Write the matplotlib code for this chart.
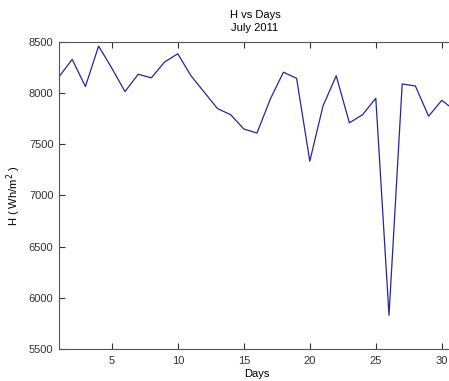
import numpy as np
import matplotlib
matplotlib.use('Agg')
import matplotlib.pyplot as plt

days = np.arange(1, 32)
h_values = [8160, 8330, 8065, 8460, 8245, 8015, 8185, 8150, 8305, 8385,
            8170, 8010, 7850, 7790, 7650, 7610, 7940, 8205, 8145, 7335,
            7875, 8170, 7710, 7790, 7950, 5830, 8090, 8070, 7775, 7930, 7830]
x_ticks = [5, 10, 15, 20, 25, 30]
y_ticks = [5500, 6000, 6500, 7000, 7500, 8000, 8500]

plt.rcParams['font.family'] = ['Liberation Sans', 'DejaVu Sans']

fig = plt.figure(figsize=(4.49, 3.81), dpi=100)
W, H = 449, 381
# axes runs past the right edge (cropped like the reference)
ax = fig.add_axes([59 / W, 1 - 349 / H, (455 - 59) / W, (349 - 42) / H])

ax.plot(days, h_values, color='#26269a', linewidth=0.9)

ax.set_xlim(1, 31)
ax.set_ylim(5500, 8500)
ax.set_xticks(x_ticks)
ax.set_yticks(y_ticks)
ax.tick_params(direction='in', length=4, width=0.8, top=True, right=True,
               labelsize=8, colors='#333333')
ax.tick_params(axis='x', pad=5)
ax.tick_params(axis='y', pad=4)
for s in ax.spines.values():
    s.set_color('#555555')
    s.set_linewidth(0.8)

ax.set_xlabel('Days', fontsize=8, labelpad=2)
ax.set_ylabel('H ( Wh/m$^2$ )', fontsize=8, labelpad=4)
fig.text(255 / W, 1 - 15 / H, 'H vs Days', ha='center', va='center', fontsize=8)
fig.text(255 / W, 1 - 28 / H, 'July 2011', ha='center', va='center', fontsize=8)

plt.savefig('out.png', dpi=100)
plt.close('all')
